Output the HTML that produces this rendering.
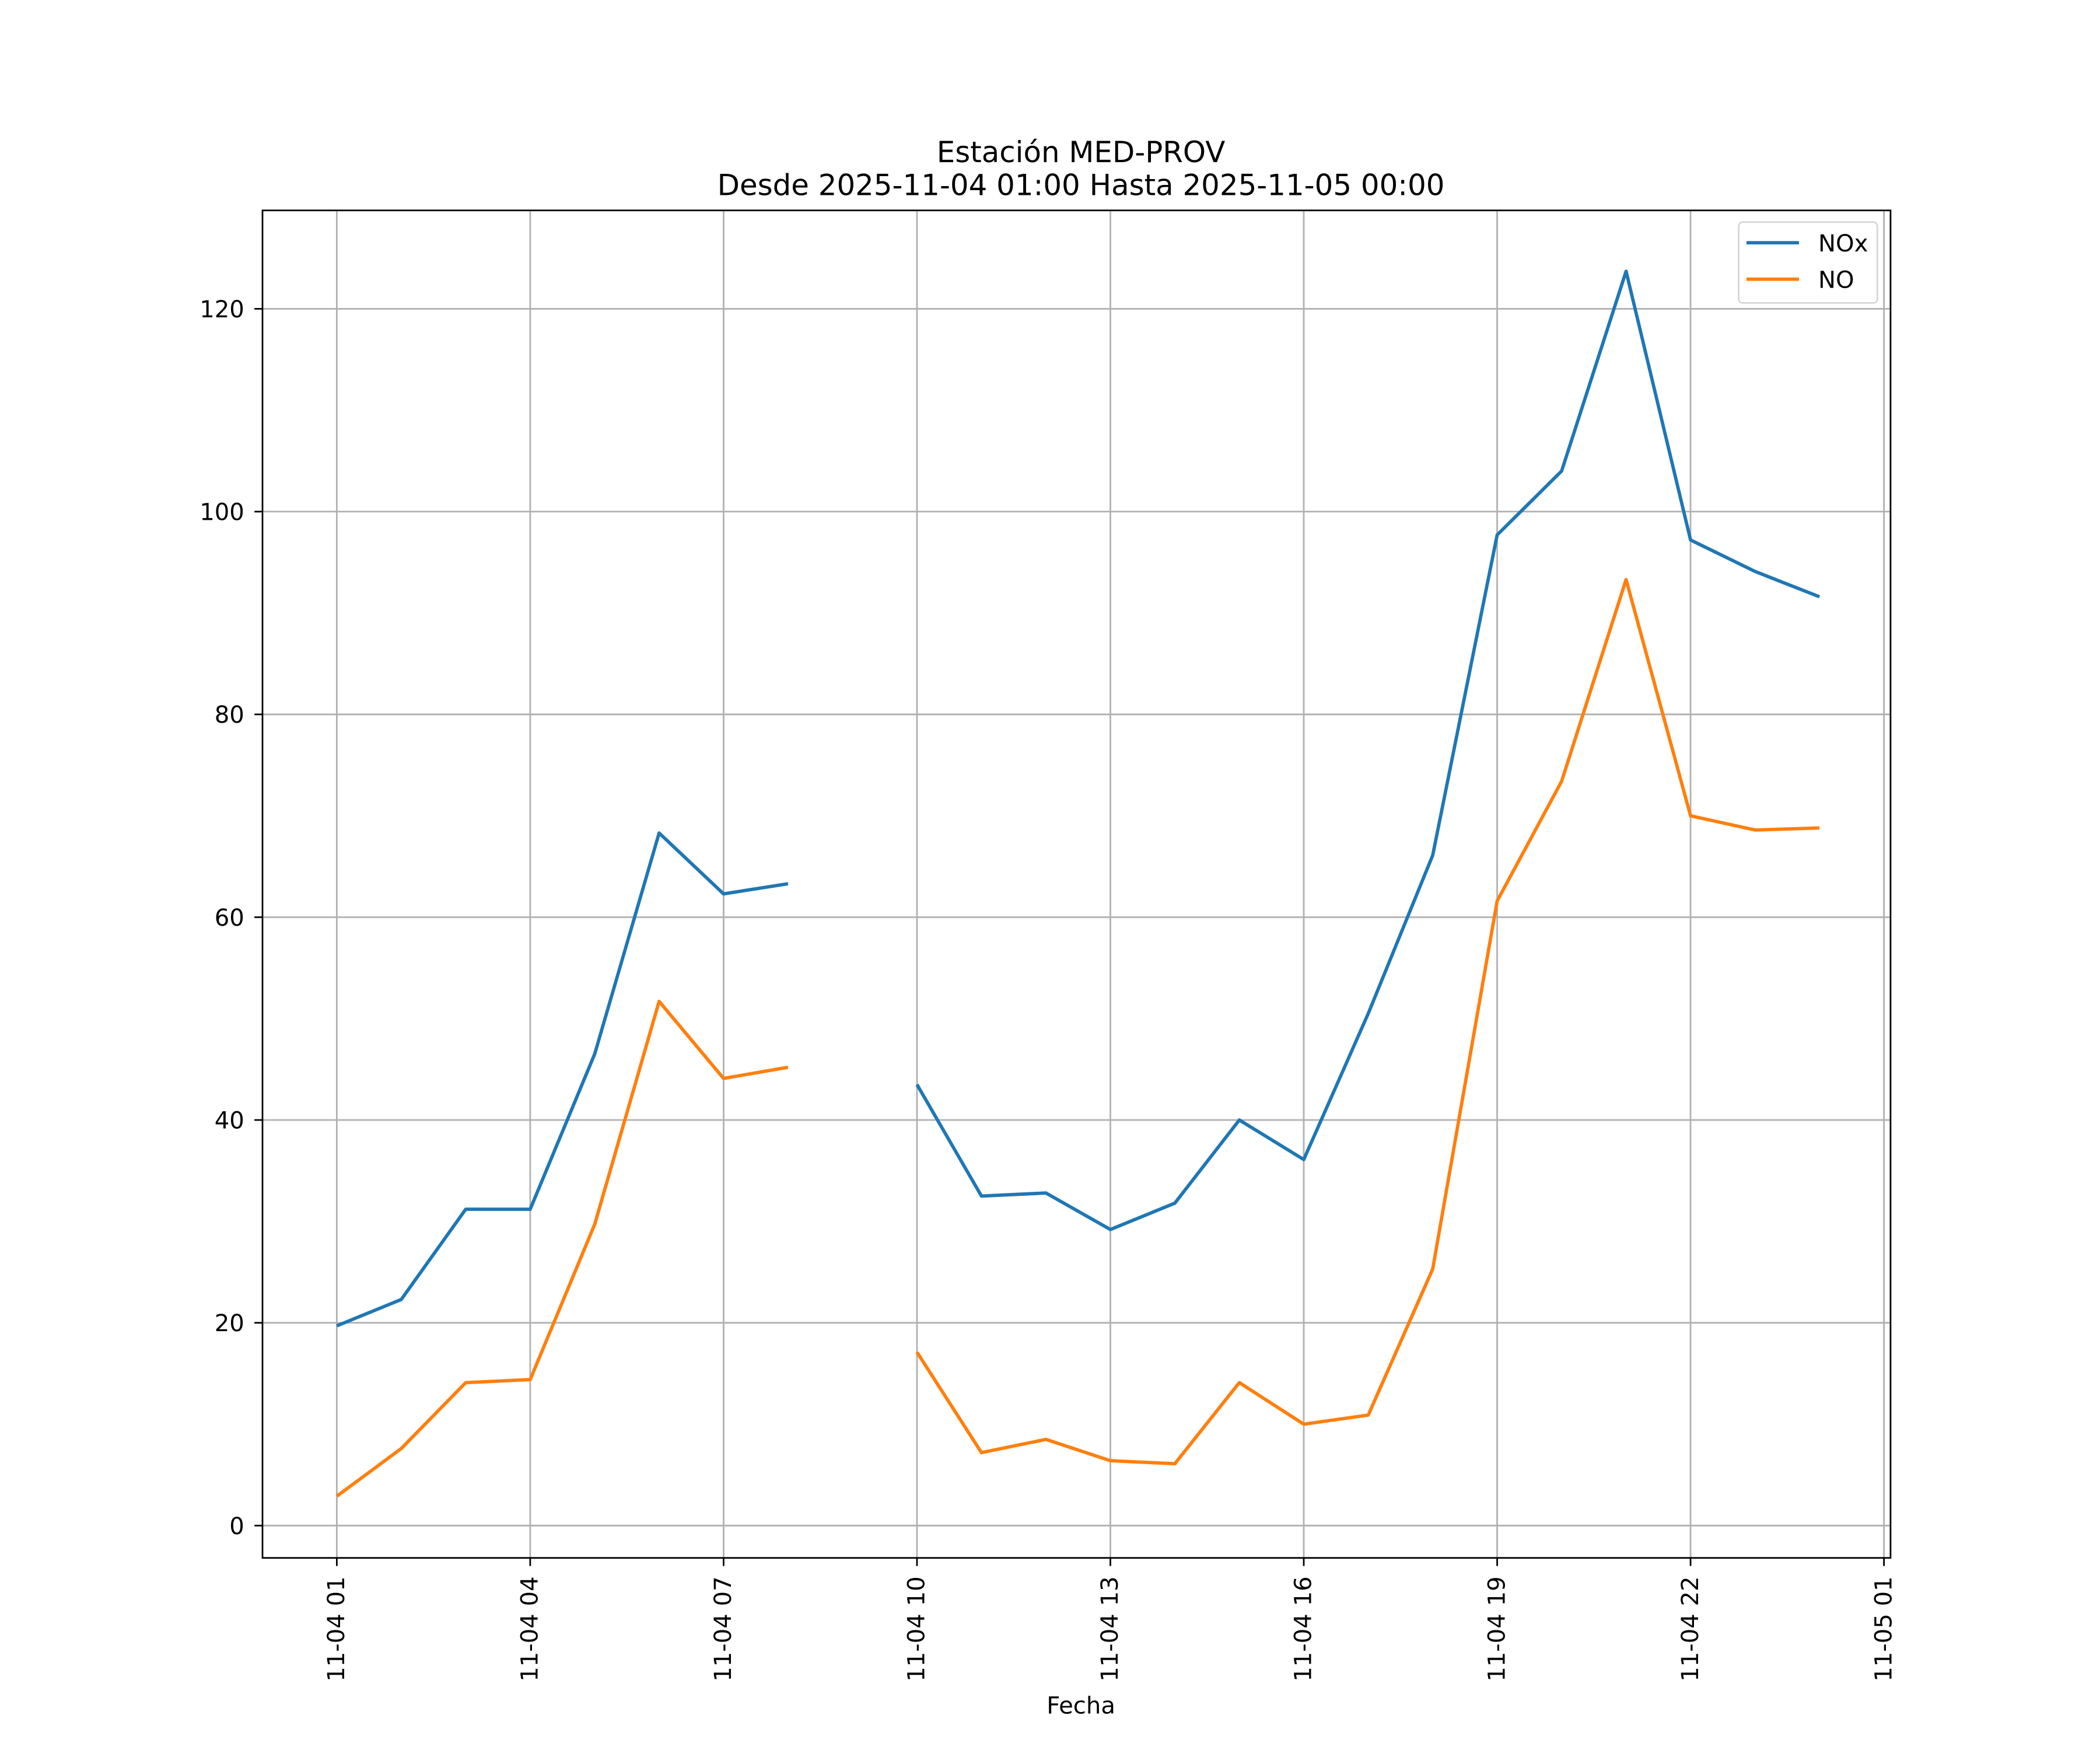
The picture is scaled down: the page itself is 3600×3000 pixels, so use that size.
<!DOCTYPE html>
<html><head><meta charset="utf-8"><style>html,body{margin:0;padding:0;background:#fff}svg{display:block}</style></head>
<body>
<svg id="chart" width="3600" height="3000" viewBox="0 0 1560 1300" xmlns="http://www.w3.org/2000/svg" font-family="'DejaVu Sans','Liberation Sans',sans-serif">
<rect width="1560" height="1300" fill="#fff"/>
<g id="grid"></g>
<g id="series"></g>
<rect x="195" y="156.3" width="1209.4" height="1001" fill="none" stroke="#000" stroke-width="1.2"/>
<g id="axes"></g>
<text x="803" y="120.5" text-anchor="middle" font-size="21.6">Estación MED-PROV</text>
<text x="803" y="145" text-anchor="middle" font-size="21.6">Desde 2025-11-04 01:00 Hasta 2025-11-05 00:00</text>
<text x="803" y="1273" text-anchor="middle" font-size="17.4">Fecha</text>
<g>
<rect x="1291.6" y="165" width="103" height="60" rx="3" fill="#fff" fill-opacity="0.8" stroke="#d5d5d5" stroke-width="1.2"/>
<g><line x1="1297.4" y1="180.3" x2="1336.4" y2="180.3" stroke="#1f77b4" stroke-width="2.5"/><text x="1350.7" y="186.7" font-size="17.4">NOx</text></g>
<g><line x1="1297.4" y1="207.4" x2="1336.4" y2="207.4" stroke="#ff7f0e" stroke-width="2.5"/><text x="1350.7" y="213.8" font-size="17.4">NO</text></g>
</g>
<script>
const hours = [1,2,3,4,5,6,7,8,9,10,11,12,13,14,15,16,17,18,19,20,21,22,23,24];
const noxValues = [19.7,22.3,31.2,31.2,46.5,68.3,62.3,63.3,null,43.5,32.5,32.8,29.2,31.8,40.0,36.1,50.5,66.1,97.7,104.0,123.7,97.2,94.1,91.6];
const noValues = [2.9,7.6,14.1,14.4,29.7,51.7,44.1,45.2,null,17.1,7.2,8.5,6.4,6.1,14.1,10.0,10.9,25.3,61.6,73.4,93.3,70.0,68.6,68.8];
const yTicks = [0,20,40,60,80,100,120];
const xTickHours = [1,4,7,10,13,16,19,22,25];
const xTickLabels = ["11-04 01","11-04 04","11-04 07","11-04 10","11-04 13","11-04 16","11-04 19","11-04 22","11-05 01"];

const NS = "http://www.w3.org/2000/svg";
const L=195, R=1404.4, T=156.3, B=1157.3;
function xs(h){ return 250.2 + (h-1)*(1399.5-250.2)/24; }
function ys(v){ return 1133.3 - v*(1133.3-229.4)/120; }
function mk(tag, attrs, parent){ const e=document.createElementNS(NS,tag); for(const k in attrs) e.setAttribute(k,attrs[k]); parent.appendChild(e); return e; }
const grid=document.getElementById('grid'), axes=document.getElementById('axes'), series=document.getElementById('series');

yTicks.forEach(v=>{
  const y=ys(v);
  const g=mk('line',{x1:L,x2:R,y1:y,y2:y,stroke:'#b0b0b0','stroke-width':1.2},grid);
  
  
  const t=mk('line',{x1:L-6,x2:L,y1:y,y2:y,stroke:'#000','stroke-width':1.2},axes);
  
  
  const l=mk('text',{x:181.5,y:y+6.3,'text-anchor':'end','font-size':17.4},axes);
  l.textContent=String(v);
  
  
});
xTickHours.forEach((h,i)=>{
  const x=xs(h);
  const g=mk('line',{x1:x,x2:x,y1:T,y2:B,stroke:'#b0b0b0','stroke-width':1.2},grid);
  
  
  const t=mk('line',{x1:x,x2:x,y1:B,y2:B+6,stroke:'#000','stroke-width':1.2},axes);
  
  
  const l=mk('text',{x:0,y:0,'text-anchor':'end','font-size':17.4,transform:`translate(${x+5.5},1171) rotate(-90)`},axes);
  l.textContent=xTickLabels[i];
  
  
});
function drawSeries(vals,color,name){
  let d='', pen=false;
  vals.forEach((v,i)=>{
    if(v===null){pen=false;return;}
    d += (pen?'L':'M') + xs(hours[i]).toFixed(2) + ' ' + ys(v).toFixed(2) + ' ';
    pen=true;
  });
  const p=mk('path',{d:d,fill:'none',stroke:color,'stroke-width':2.5,'stroke-linejoin':'round'},series);
  
  
}
drawSeries(noxValues,'#1f77b4','nox-line');
drawSeries(noValues,'#ff7f0e','no-line');
</script>
</svg>
</body></html>
